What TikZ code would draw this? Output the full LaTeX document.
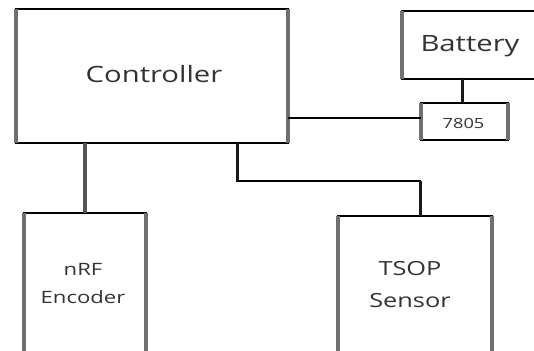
\documentclass[tikz,border=0pt]{standalone}
\usepackage{fontspec}
\usepackage{graphicx}
\setmainfont{Open Sans}
\definecolor{txt}{HTML}{333333}
\definecolor{sidegray}{HTML}{707070}
\definecolor{nrfgray}{HTML}{555555}
\newcommand\stretchtext[1]{\scalebox{1.3}[1]{#1}}
\tikzset{
  box/.style={draw=black, line width=1.8pt, inner sep=0pt, outer sep=0pt},
  sides/.style={draw=sidegray, line width=3.5pt},
  lbl/.style={text=txt, inner sep=0pt},
  hconn/.style={draw=black, line width=2pt},
  vconn/.style={draw=black!90, line width=3pt}
}
\begin{document}
\begin{tikzpicture}[x=1pt,y=-1pt]
\clip (0,0) rectangle (534,350);
\fill[white] (0,0) rectangle (534,350);
% boxes
\node[box, minimum width=272pt, minimum height=134pt] (ctrl) at (152,76) {};
\node[box, minimum width=143pt, minimum height=68pt] (batt) at (473.5,45) {};
\node[box, minimum width=87pt, minimum height=37pt] (reg) at (464.5,121.5) {};
\node[box, minimum width=122pt, minimum height=147pt] (nrf) at (85,286.5) {};
\node[box, minimum width=154pt, minimum height=144pt] (tsop) at (415,288) {};
% thicker grey vertical sides
\foreach \b in {ctrl,batt,reg,nrf,tsop}{
  \draw[sides] (\b.north west) -- (\b.south west) (\b.north east) -- (\b.south east);
}
% texts
\node[lbl, anchor=base, font=\fontsize{22.5}{27}\selectfont] (ctrlT) at (154,82) {\stretchtext{Controller}};
\node[lbl, anchor=base, font=\fontsize{22.5}{27}\selectfont] (battT) at (470,52) {\stretchtext{Battery}};
\node[lbl, anchor=base, font=\fontsize{14}{17}\selectfont] (regT) at (463.5,128) {\stretchtext{7805}};
\node[lbl, anchor=base, font=\fontsize{17}{28}\selectfont] (nrfT) at (83,275) {\stretchtext{\begin{tabular}[t]{@{}c@{}}nRF\\Encoder\end{tabular}}};
\node[lbl, anchor=base, font=\fontsize{19.5}{32}\selectfont] (tsopT) at (410,275) {\stretchtext{\begin{tabular}[t]{@{}c@{}}TSOP\\Sensor\end{tabular}}};
% connectors
\draw[hconn] ([yshift=3.5pt]reg.west) -- ([yshift=3.5pt]reg.west -| ctrl.east);
\draw[vconn] ([xshift=-2.5pt]reg.north) -- ([xshift=-2.5pt]reg.north |- batt.south);
\draw[vconn, draw=nrfgray, line width=4.5pt] (nrf.north) -- (nrf.north |- ctrl.south);
\coordinate (bend) at (420,181);
\draw[hconn] ([xshift=85pt]ctrl.south) |- (bend) -- ([xshift=5pt]tsop.north);
\draw[vconn] ([xshift=85pt]ctrl.south) -- ([xshift=85pt]ctrl.south |- bend);
\draw[vconn] (bend) -- ([xshift=5pt]tsop.north);
\end{tikzpicture}
\end{document}
